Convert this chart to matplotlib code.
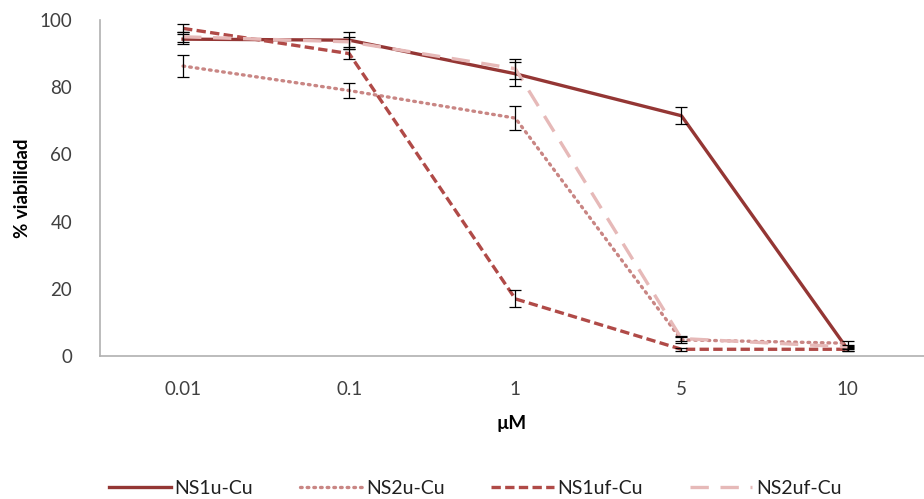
import matplotlib
matplotlib.use("Agg")
import matplotlib.pyplot as plt
import numpy as np

plt.rcParams['font.family'] = ['Lato', 'DejaVu Sans']

# concentraciones (eje categórico)
conc_labels = ["0.01", "0.1", "1", "5", "10"]

# % viabilidad por muestra
ns1u = [94.3, 94.0, 84.0, 71.5, 2.0]
ns2u = [86.3, 79.0, 70.8, 4.8, 3.8]
ns1uf = [97.5, 90.0, 17.0, 2.0, 2.0]
ns2uf = [95.0, 93.5, 85.5, 5.2, 2.7]

# desviaciones
ns1u_err = [1.5, 2.5, 3.5, 2.5, 0.6]
ns2u_err = [3.2, 2.2, 3.5, 0.8, 0.8]
ns1uf_err = [1.2, 1.5, 2.5, 0.5, 0.5]
ns2uf_err = [1.5, 1.5, 3.0, 0.8, 0.6]

x = np.arange(len(conc_labels))

fig = plt.figure(figsize=(9.24, 4.99), dpi=100)
ax = fig.add_axes([100 / 924, 143 / 499, 824 / 924, 336 / 499])

series = [
    ("NS1u-Cu", ns1u, ns1u_err, "#943634", "-"),
    ("NS2u-Cu", ns2u, ns2u_err, "#C98684", (0, (0.5, 1.5))),
    ("NS1uf-Cu", ns1uf, ns1uf_err, "#B04A47", (0, (2.8, 1.3))),
    ("NS2uf-Cu", ns2uf, ns2uf_err, "#E6B9B8", (0, (5.5, 3.5))),
]

for name, vals, errs, col, ls in series:
    ax.plot(x, vals, color=col, linestyle=ls, linewidth=2.4, label=name,
            dash_capstyle='round' if name == "NS2u-Cu" else 'butt')
    ax.errorbar(x, vals, yerr=errs, fmt='none', ecolor='black',
                elinewidth=0.9, capsize=4, capthick=0.9)

ax.set_xlim(-0.5, 4.46)
ax.set_ylim(0, 100)
ax.set_xticks(x)
ax.set_xticklabels(conc_labels)
ax.set_yticks([0, 20, 40, 60, 80, 100])
ax.tick_params(axis='both', length=0, labelsize=13.5, colors='#404040')
ax.tick_params(axis='y', pad=20)
ax.tick_params(axis='x', pad=18)

for s in ['top', 'right']:
    ax.spines[s].set_visible(False)
for s in ['left', 'bottom']:
    ax.spines[s].set_color('#B0B0B0')
    ax.spines[s].set_linewidth(1.2)

ax.set_xlabel("µM", fontsize=13.5, fontweight='bold', labelpad=12)
ax.set_ylabel("% viabilidad", fontsize=13.5, fontweight='bold', labelpad=6)

ax.legend(loc='center', bbox_to_anchor=(0.455, -0.395), ncol=4, frameon=False,
          fontsize=14, handlelength=3.2, handletextpad=0.2, columnspacing=2.4,
          labelcolor='#202020')

fig.savefig("out.png", dpi=100)
